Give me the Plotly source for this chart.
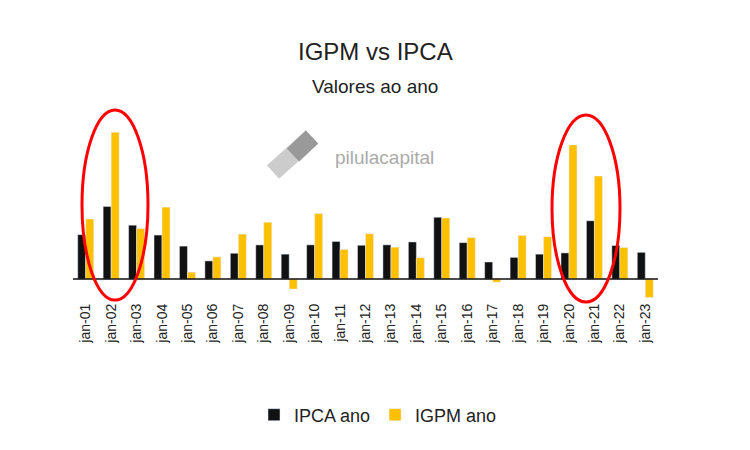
import plotly.graph_objects as go

years = [f"jan-{y:02d}" for y in range(1, 24)]
ipca = [7.67,12.53,9.30,7.60,5.69,3.14,4.46,5.90,4.31,5.91,6.50,5.84,5.91,6.41,10.67,6.29,2.95,3.75,4.31,4.52,10.06,5.79,4.62]
igpm = [10.37,25.31,8.71,12.41,1.21,3.83,7.75,9.81,-1.72,11.32,5.10,7.82,5.51,3.69,10.54,7.17,-0.52,7.54,7.30,23.14,17.78,5.45,-3.18]

T, B = 107, 292
H = B - T
def py(px):
    return (B - px + 8) / H
def pxx(px):
    return (px - 73) / 585

fig = go.Figure()
fig.add_bar(x=years, y=ipca, name="IPCA ano", marker_color="#111111")
fig.add_bar(x=years, y=igpm, name="IGPM ano", marker_color="#FFC000")

font = "Liberation Sans"
fig.update_layout(
    width=750, height=450, barmode="group", bargap=0.37, bargroupgap=0,
    margin=dict(l=65, r=100, t=T, b=450 - B),
    paper_bgcolor="white", plot_bgcolor="white",
    font=dict(family=font, color="#222222"),
    showlegend=True,
    legend=dict(orientation="h", x=pxx(378), xanchor="center", y=py(415), yanchor="middle",
                font=dict(size=18, color="#222")),
    xaxis=dict(tickangle=-90, tickfont=dict(size=14, color="#222"), showgrid=False,
               ticks="", showline=False),
    yaxis=dict(range=[-3.6, 28.3], visible=False, zeroline=True),
)
fig.add_annotation(text="IGPM vs IPCA", xref="paper", yref="paper", x=pxx(375), y=py(52),
                   yanchor="middle", showarrow=False, font=dict(size=24, color="#222"))
fig.add_annotation(text="Valores ao ano", xref="paper", yref="paper", x=pxx(375), y=py(86),
                   yanchor="middle", showarrow=False, font=dict(size=19, color="#222"))
fig.add_annotation(text="pilulacapital", xref="paper", yref="paper", x=pxx(384), y=py(157),
                   yanchor="middle", showarrow=False, font=dict(size=19, color="#aaaaaa"))
fig.add_shape(type="line", xref="paper", yref="y", x0=0, x1=1, y0=0, y1=0,
              line=dict(color="#111", width=1.5))
fig.add_shape(type="line", xref="paper", yref="paper", x0=pxx(273), y0=py(172),
              x1=pxx(312), y1=py(137), line=dict(color="#cccccc", width=18))
fig.add_shape(type="line", xref="paper", yref="paper", x0=pxx(293), y0=py(155),
              x1=pxx(312), y1=py(137), line=dict(color="#999999", width=18))
fig.add_shape(type="circle", xref="paper", yref="paper", x0=pxx(82), x1=pxx(148),
              y0=py(300), y1=py(110), line=dict(color="#FF0000", width=3))
fig.add_shape(type="circle", xref="paper", yref="paper", x0=pxx(552), x1=pxx(620),
              y0=py(302), y1=py(115), line=dict(color="#FF0000", width=3))

fig.write_html("out.html")
